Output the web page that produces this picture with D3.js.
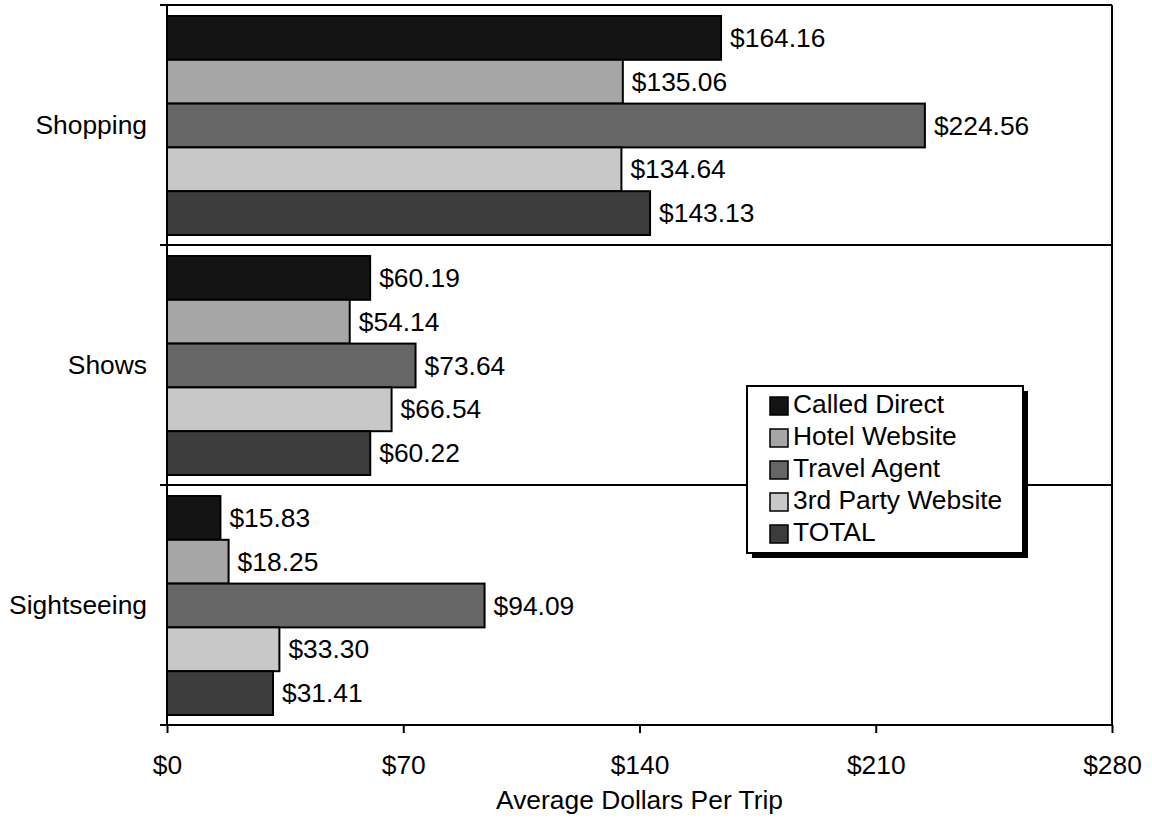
<!DOCTYPE html>
<html><head><meta charset="utf-8">
<script src="https://cdn.jsdelivr.net/npm/d3@7"></script>
<style>body{margin:0;background:#fff}svg{display:block;font-family:"Liberation Sans",Arial,sans-serif}</style>
</head><body><svg id="c" width="1152" height="824"></svg>
<script>
const categories = ["Shopping", "Shows", "Sightseeing"];
const seriesNames = ["Called Direct", "Hotel Website", "Travel Agent", "3rd Party Website", "TOTAL"];
const seriesColors = ["#141414", "#a6a6a6", "#666666", "#c8c8c8", "#3c3c3c"];
const calledDirect = [164.16, 60.19, 15.83];
const hotelWebsite = [135.06, 54.14, 18.25];
const travelAgent = [224.56, 73.64, 94.09];
const thirdParty = [134.64, 66.54, 33.30];
const total = [143.13, 60.22, 31.41];
const xTicks = [0, 70, 140, 210, 280];
const xTitle = "Average Dollars Per Trip";

const seriesValues = [calledDirect, hotelWebsite, travelAgent, thirdParty, total];
const svg = d3.select("#c");
const L = 167, R = 1112, T = 5, B = 725;
const FS = 26.4;

const x = d3.scaleLinear().domain([0, 280]).range([L, R]);
const y = d3.scaleBand().domain(categories).range([T, B]).paddingInner(0).paddingOuter(0);
const bw = y.bandwidth();
const yi = d3.scaleBand().domain(seriesNames).range([bw * 11 / 240, bw * 230 / 240]).padding(0);

// bars
categories.forEach((cat, ci) => {
  seriesNames.forEach((s, si) => {
    const v = seriesValues[si][ci];
    const y0 = y(cat) + yi(s);
    svg.append("rect")
      .attr("x", x(0)).attr("y", y0)
      .attr("width", x(v) - x(0)).attr("height", yi.bandwidth())
      .attr("fill", seriesColors[si]).attr("stroke", "#000").attr("stroke-width", 2);
    svg.append("text")
      .attr("x", x(v) + 9).attr("y", y0 + yi.bandwidth() / 2 + 9)
      .attr("font-size", FS).attr("fill", "#000")
      .text("$" + v.toFixed(2));
  });
});

// frame
const g = svg.append("g").attr("stroke", "#000").attr("stroke-width", 2).attr("fill", "none");
g.append("line").attr("x1", L).attr("x2", R).attr("y1", T).attr("y2", T);
g.append("line").attr("x1", R).attr("x2", R).attr("y1", T).attr("y2", B);
categories.slice(1).forEach(c => {
  g.append("line").attr("x1", L).attr("x2", R).attr("y1", y(c)).attr("y2", y(c));
});

// x axis
const xa = svg.append("g").attr("transform", `translate(0,${B})`)
  .call(d3.axisBottom(x).tickValues(xTicks).tickSize(8).tickPadding(22).tickFormat(d => "$" + d));
xa.select(".domain").attr("stroke-width", 2).attr("d", `M${L},0H${R}`);
xa.selectAll(".tick line").attr("stroke-width", 2);
xa.selectAll(".tick text").attr("font-size", FS).attr("font-family", "Liberation Sans, Arial, sans-serif").attr("fill", "#000");

// y axis
const yEdges = [T].concat(categories.slice(1).map(c => y(c))).concat([B]);
const ya = svg.append("g").attr("stroke", "#000").attr("stroke-width", 2);
ya.append("line").attr("x1", L).attr("x2", L).attr("y1", T).attr("y2", B);
yEdges.forEach(e => ya.append("line").attr("x1", L - 7).attr("x2", L).attr("y1", e).attr("y2", e));
categories.forEach(c => {
  svg.append("text").attr("x", 147).attr("y", y(c) + bw / 2 + 9)
    .attr("text-anchor", "end").attr("font-size", FS).text(c);
});

// axis title
svg.append("text").attr("x", (L + R) / 2).attr("y", 809).attr("text-anchor", "middle")
  .attr("font-size", FS).text(xTitle);

// legend
const lx = 747, ly = 386, lw = 276, lh = 167;
svg.append("rect").attr("x", lx + 5).attr("y", ly + 5).attr("width", lw).attr("height", lh).attr("fill", "#000");
svg.append("rect").attr("x", lx).attr("y", ly).attr("width", lw).attr("height", lh)
  .attr("fill", "#fff").attr("stroke", "#000").attr("stroke-width", 2);
seriesNames.forEach((s, i) => {
  const by = 413 + i * 32;
  svg.append("rect").attr("x", 770).attr("y", by - 16).attr("width", 18).attr("height", 18)
    .attr("fill", seriesColors[i]).attr("stroke", "#000").attr("stroke-width", 1.5);
  svg.append("text").attr("x", 793).attr("y", by).attr("font-size", FS).text(s);
});
</script></body></html>
